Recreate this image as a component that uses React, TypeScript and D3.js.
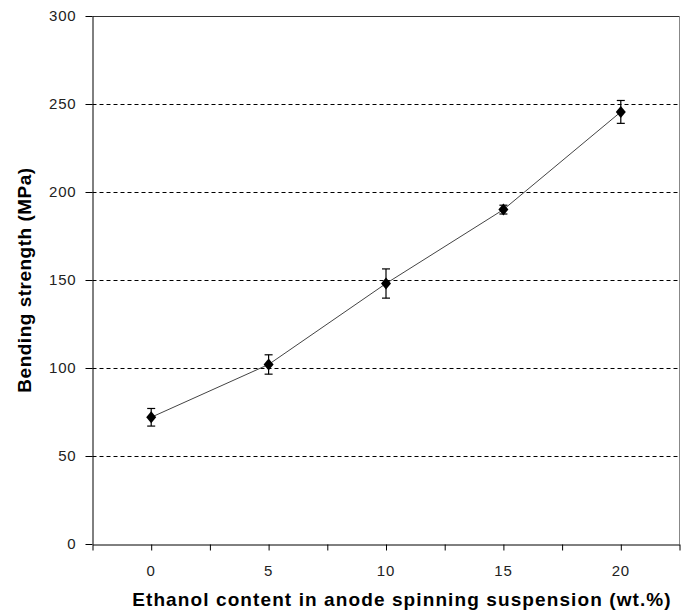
import React, { useEffect, useRef } from 'react';
import * as d3 from 'd3';

// ethanol content (wt.%)
const ethanol = [0, 5, 10, 15, 20];
// bending strength (MPa) and error
const strength = [72, 102, 148, 190, 245.5];
const errors = [5, 5.5, 8.3, 2.5, 6.5];

const yTicks = [0, 50, 100, 150, 200, 250, 300];
const xMajor = [0, 5, 10, 15, 20];
const xMinor = [-2.5, 0, 2.5, 5, 7.5, 10, 12.5, 15, 17.5, 20, 22.5];

export default function App() {
  const svgRef = useRef<SVGSVGElement>(null);

  useEffect(() => {
    const svg = d3.select(svgRef.current);
    svg.selectAll('*').remove();

    const W = 686, H = 611;
    const left = 92.5, right = 679.5, top = 16, bottom = 544;
    const font = 'Arial, "Liberation Sans", sans-serif';

    const x = d3.scaleLinear().domain([-2.5, 22.5]).range([left, right]);
    const y = d3.scaleLinear().domain([0, 300]).range([bottom, top]);

    svg.attr('width', W).attr('height', H);

    // gridlines dashed
    svg.append('g')
      .selectAll('line')
      .data(yTicks.filter(t => t > 0 && t < 300))
      .join('line')
      .attr('x1', left).attr('x2', right)
      .attr('y1', d => Math.round(y(d)) + 0.5).attr('y2', d => Math.round(y(d)) + 0.5)
      .attr('stroke', '#000').attr('stroke-width', 1)
      .attr('stroke-dasharray', '4 3');

    // top and right border
    svg.append('line')
      .attr('x1', left).attr('x2', right).attr('y1', top + 0.5).attr('y2', top + 0.5)
      .attr('stroke', '#333');
    svg.append('line')
      .attr('x1', right).attr('x2', right).attr('y1', top).attr('y2', bottom)
      .attr('stroke', '#888');

    // y axis
    const yAxis = svg.append('g')
      .attr('transform', `translate(${left},0)`)
      .call(d3.axisLeft(y).tickValues(yTicks).tickSize(7).tickPadding(9).tickSizeOuter(0));
    yAxis.select('.domain').attr('stroke', '#000');
    yAxis.selectAll('text')
      .style('font-family', font).style('font-size', '15px').style('letter-spacing', '0.8px')
      .attr('fill', '#222');

    // x axis
    const xAxis = svg.append('g')
      .attr('transform', `translate(0,${bottom + 0.5})`)
      .call(d3.axisBottom(x).tickValues(xMinor).tickSize(6).tickFormat(() => '').tickSizeOuter(0));
    xAxis.select('.domain').attr('stroke', '#000');
    svg.append('g')
      .selectAll('text')
      .data(xMajor)
      .join('text')
      .attr('x', d => x(d)).attr('y', 576)
      .attr('text-anchor', 'middle')
      .style('font-family', font).style('font-size', '15px').style('letter-spacing', '0.8px')
      .attr('fill', '#222')
      .text(d => d);

    // line
    const line = d3.line<number>().x((d, i) => x(ethanol[i])).y(d => y(d));
    svg.append('path')
      .datum(strength)
      .attr('d', line)
      .attr('fill', 'none').attr('stroke', '#444').attr('stroke-width', 1);

    // error bars
    const eb = svg.append('g').attr('stroke', '#000').attr('stroke-width', 1.2);
    strength.forEach((v, i) => {
      const cx = x(ethanol[i]);
      eb.append('line').attr('x1', cx).attr('x2', cx).attr('y1', y(v + errors[i])).attr('y2', y(v - errors[i]));
      eb.append('line').attr('x1', cx - 4).attr('x2', cx + 4).attr('y1', y(v + errors[i])).attr('y2', y(v + errors[i]));
      eb.append('line').attr('x1', cx - 4).attr('x2', cx + 4).attr('y1', y(v - errors[i])).attr('y2', y(v - errors[i]));
    });

    // diamond markers
    svg.append('g')
      .selectAll('path')
      .data(strength)
      .join('path')
      .attr('transform', (d, i) => `translate(${x(ethanol[i])},${y(d)})`)
      .attr('d', 'M0,-6L5,0L0,6L-5,0Z')
      .attr('fill', '#000');

    // axis titles
    svg.append('text')
      .attr('x', 402).attr('y', 606)
      .attr('text-anchor', 'middle')
      .style('font-family', font).style('font-size', '19px').style('font-weight', 'bold')
      .style('letter-spacing', '1.1px')
      .text('Ethanol content in anode spinning suspension (wt.%)');

    svg.append('text')
      .attr('transform', 'translate(31,280) rotate(-90)')
      .attr('text-anchor', 'middle')
      .style('font-family', font).style('font-size', '19px').style('font-weight', 'bold')
      .style('letter-spacing', '0.5px')
      .text('Bending strength (MPa)');
  }, []);

  return <svg ref={svgRef} style={{ position: 'absolute', left: 0, top: 0 }} />;
}
